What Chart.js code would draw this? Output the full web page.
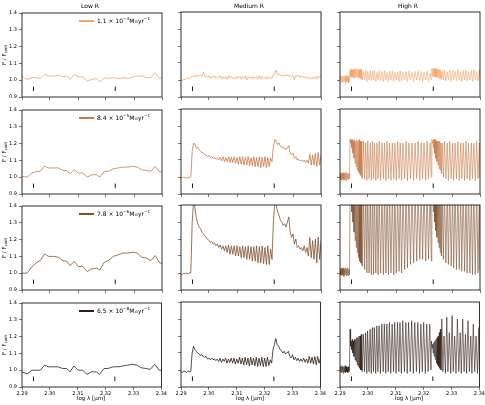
<!DOCTYPE html>
<html>
<head>
<meta charset="utf-8">
<script src="https://cdn.jsdelivr.net/npm/chart.js@4.4.1/dist/chart.umd.min.js"></script>
<style>
  body { margin: 0; background: #fff; }
  #fig { position: relative; width: 485px; height: 405px; overflow: hidden; font-family: "DejaVu Sans", sans-serif; color: #000; }
  #fig canvas { position: absolute; }
  .txt { position: absolute; white-space: nowrap; line-height: 1; }
  .ttl { font-size: 6px; transform: translate(-50%, -50%); }
  .ylab { font-size: 5.5px; transform: translate(-50%, -50%) rotate(-90deg); }
  .xlab { font-size: 5.5px; transform: translate(-50%, -50%); }
  .leg { font-size: 6px; transform: translateY(-50%); display: flex; align-items: center; }
  .leg i { display: inline-block; width: 15px; height: 2px; margin-right: 3px; }
  sup, sub { font-size: 70%; line-height: 0; position: relative; vertical-align: baseline; }
  sup { top: -0.5em; }
  sub { top: 0.3em; }
</style>
</head>
<body>
<div id="fig"></div>
<script>
const columnTitles = ['Low R', 'Medium R', 'High R']
const rateMantissa = ['1.1', '8.4', '7.8', '6.5']
const rateExponent = ['\u22123', '\u22125', '\u22126', '\u22128']
const rowColors = ['#f5a366', '#c77b48', '#7f5332', '#2c1e14']

// band head markers (wavelength) and the flux range of the little ticks
const bandHeads = [2.2941, 2.3233]
const markRange = [0.935, 0.962]

// low resolution
const waveLow = [2.2900, 2.2918, 2.2936, 2.2953, 2.2965, 2.2981, 2.2995, 2.3013, 2.3030, 2.3046, 2.3060,
    2.3072, 2.3086, 2.3101, 2.3117, 2.3133, 2.3149, 2.3167, 2.3178, 2.3194, 2.3208, 2.3226, 2.3244,
    2.3261, 2.3279, 2.3297, 2.3312, 2.3327, 2.3344, 2.3360, 2.3376, 2.3392, 2.3400]
const fluxLow1 = [1.02, 1.005, 1.015, 1.015, 1.01, 1.035, 1.025, 1.025, 1.03, 1.02, 1.025, 1.005, 1.035,
    1.02, 1.02, 0.995, 1.005, 1.01, 0.99, 1.015, 1.01, 1.015, 1.01, 1.015, 1.01, 1.02, 1.025, 1.025,
    1.015, 1.015, 1.045, 1.01, 1.015]
const fluxLow2 = [1.005, 1.0, 1.025, 1.035, 1.035, 1.065, 1.055, 1.055, 1.055, 1.04, 1.04, 1.02, 1.045,
    1.025, 1.025, 1.0, 1.015, 1.015, 1.0, 1.035, 1.035, 1.05, 1.055, 1.06, 1.06, 1.065, 1.06, 1.045,
    1.04, 1.035, 1.065, 1.03, 1.035]
const fluxLow3 = [1.0, 1.0, 1.04, 1.065, 1.075, 1.115, 1.1, 1.1, 1.095, 1.075, 1.07, 1.045, 1.07, 1.04,
    1.04, 1.01, 1.025, 1.03, 1.02, 1.065, 1.075, 1.1, 1.11, 1.12, 1.12, 1.125, 1.12, 1.095, 1.09,
    1.075, 1.105, 1.06, 1.06]
const fluxLow4 = [0.99, 0.978, 1.0, 1.0, 1.0, 1.03, 1.02, 1.02, 1.02, 1.01, 1.01, 0.99, 1.025, 1.0, 1.0,
    0.975, 0.99, 0.99, 0.975, 1.01, 1.01, 1.02, 1.02, 1.025, 1.03, 1.035, 1.03, 1.015, 1.01, 1.005,
    1.035, 1.0, 1.0]

// medium resolution
const waveMed = [2.2900, 2.2905, 2.2910, 2.2915, 2.2920, 2.2925, 2.2930, 2.2935, 2.2940, 2.2945,
    2.2950, 2.2955, 2.2960, 2.2965, 2.2970, 2.2975, 2.2980, 2.2985, 2.2990, 2.2995,
    2.3000, 2.3005, 2.3010, 2.3015, 2.3020, 2.3025, 2.3030, 2.3035, 2.3040, 2.3045,
    2.3050, 2.3055, 2.3060, 2.3065, 2.3070, 2.3075, 2.3080, 2.3085, 2.3090, 2.3095,
    2.3100, 2.3105, 2.3110, 2.3115, 2.3120, 2.3125, 2.3130, 2.3135, 2.3140, 2.3145,
    2.3150, 2.3155, 2.3160, 2.3165, 2.3170, 2.3175, 2.3180, 2.3185, 2.3190, 2.3195,
    2.3200, 2.3205, 2.3210, 2.3215, 2.3220, 2.3225, 2.3230, 2.3235, 2.3240, 2.3245,
    2.3250, 2.3255, 2.3260, 2.3265, 2.3270, 2.3275, 2.3280, 2.3285, 2.3290, 2.3295,
    2.3300, 2.3305, 2.3310, 2.3315, 2.3320, 2.3325, 2.3330, 2.3335, 2.3340, 2.3345,
    2.3350, 2.3355, 2.3360, 2.3365, 2.3370, 2.3375, 2.3380, 2.3385, 2.3390, 2.3395, 2.3400]
const fluxMed1 = [1.0, 0.995, 1.005, 1.0, 1.01, 1.015, 1.005, 1.015,
    1.02, 1.025, 1.015, 1.03, 1.02, 1.025, 1.03, 1.02, 1.045, 1.02, 1.025, 1.015, 1.025, 1.01, 1.02,
    1.015, 1.025, 1.01, 1.02, 1.015, 1.025,
    1.005, 1.02, 1.01, 1.02, 1.005, 1.025, 1.01, 1.02, 1.01, 1.015, 1.005, 1.02, 1.01, 1.02, 1.005,
    1.02, 1.01, 1.025, 1.0, 1.02, 1.01, 1.02, 1.005, 1.02, 1.01, 1.02, 1.005, 1.025, 1.005, 1.02,
    1.01, 1.015, 1.005, 1.02, 1.01, 1.015,
    1.01, 1.03, 1.035, 1.06, 1.03, 1.035, 1.025, 1.03, 1.02, 1.03, 1.025, 1.03, 1.02, 1.03, 1.02,
    1.025, 1.0, 1.025, 1.02, 1.03, 1.015, 1.025, 1.015, 1.02, 1.01, 1.02, 1.01, 1.015, 1.005, 1.015,
    1.01, 1.02, 1.005, 1.02, 1.015, 1.03]
const fluxMed2 = [1.0, 0.995, 1.0, 0.995, 0.995, 1.0, 0.995, 1.0,
    1.15, 1.2, 1.19, 1.17, 1.175, 1.16, 1.15, 1.145, 1.14, 1.13, 1.13, 1.12, 1.125, 1.115, 1.12, 1.11,
    1.115, 1.105, 1.11, 1.1, 1.115,
    1.095, 1.12, 1.09, 1.115, 1.09, 1.12, 1.085, 1.115, 1.085, 1.12, 1.08, 1.115, 1.075, 1.12, 1.075,
    1.12, 1.07, 1.115, 1.07, 1.12, 1.065, 1.115, 1.065, 1.12, 1.06, 1.115, 1.06, 1.12, 1.055, 1.115,
    1.06, 1.12, 1.055, 1.115, 1.06, 1.11,
    1.09, 1.18, 1.22, 1.21, 1.19, 1.2, 1.18, 1.175, 1.17, 1.175, 1.16, 1.17, 1.185, 1.14, 1.13, 1.14,
    1.11, 1.12, 1.1, 1.105, 1.095, 1.1, 1.09, 1.1, 1.085, 1.1, 1.08, 1.135, 1.07, 1.13, 1.07, 1.14,
    1.06, 1.145, 1.07, 1.13]
const fluxMed3 = [0.995, 0.99, 1.0, 0.995, 1.0, 0.995, 1.0, 1.0,
    1.3, 1.42, 1.38, 1.32, 1.29, 1.27, 1.26, 1.24, 1.23, 1.22, 1.21, 1.2, 1.19, 1.18, 1.185, 1.17,
    1.175, 1.16, 1.17, 1.15, 1.165,
    1.14, 1.16, 1.13, 1.16, 1.12, 1.165, 1.11, 1.16, 1.11, 1.16, 1.10, 1.16, 1.10, 1.155, 1.09, 1.16,
    1.09, 1.155, 1.08, 1.16, 1.08, 1.155, 1.07, 1.155, 1.07, 1.16, 1.06, 1.155, 1.06, 1.16, 1.055,
    1.15, 1.05, 1.16, 1.05, 1.14,
    1.08, 1.3, 1.42, 1.4, 1.36, 1.34, 1.31, 1.3, 1.28, 1.29, 1.27, 1.3, 1.33, 1.24, 1.21, 1.23, 1.17,
    1.2, 1.15, 1.16, 1.14, 1.15, 1.13, 1.16, 1.12, 1.15, 1.1, 1.21, 1.09, 1.19, 1.08, 1.2, 1.06, 1.21,
    1.08, 1.19]
const fluxMed4 = [0.99, 0.985, 0.995, 0.99, 0.985, 0.995, 0.99, 0.99,
    1.1, 1.14, 1.12, 1.11, 1.1, 1.095, 1.085, 1.09, 1.08, 1.075, 1.08, 1.065, 1.07, 1.06, 1.07, 1.06,
    1.065, 1.055, 1.065, 1.05, 1.07,
    1.045, 1.065, 1.05, 1.07, 1.04, 1.065, 1.045, 1.07, 1.04, 1.07, 1.035, 1.065, 1.04, 1.075, 1.035,
    1.07, 1.03, 1.075, 1.03, 1.07, 1.025, 1.075, 1.03, 1.07, 1.025, 1.075, 1.02, 1.07, 1.025, 1.075,
    1.02, 1.07, 1.02, 1.075, 1.025, 1.06,
    1.04, 1.12, 1.15, 1.185, 1.15, 1.14, 1.12, 1.115, 1.1, 1.11, 1.095, 1.1, 1.11, 1.08, 1.07, 1.09,
    1.06, 1.075, 1.055, 1.07, 1.05, 1.065, 1.05, 1.07, 1.045, 1.065, 1.04, 1.08, 1.04, 1.075, 1.035,
    1.08, 1.03, 1.08, 1.04, 1.07]

// high resolution: continuum, first band head, line forest, second band head, line forest
const waveHigh = [2.2900, 2.2902, 2.2904, 2.2906, 2.2908, 2.2910, 2.2912, 2.2914, 2.2916, 2.2918,
    2.2920, 2.2922, 2.2924, 2.2926, 2.2928, 2.2930, 2.2932, 2.2934,
    2.2936, 2.2938, 2.2940, 2.2942, 2.2944, 2.2946, 2.2948, 2.2950, 2.2952, 2.2954, 2.2956, 2.2958,
    2.2960, 2.2962, 2.2964, 2.2966, 2.2968, 2.2970, 2.2972, 2.2974, 2.2976, 2.2978, 2.2980,
    2.2984, 2.2988, 2.2992, 2.2996, 2.2999, 2.3004, 2.3008, 2.3012, 2.3016, 2.3020, 2.3023, 2.3028,
    2.3032, 2.3036, 2.3040, 2.3045, 2.3050, 2.3055, 2.3059, 2.3064, 2.3068, 2.3073, 2.3077, 2.3082,
    2.3087, 2.3092, 2.3096, 2.3101, 2.3106, 2.3111, 2.3115, 2.3120, 2.3125, 2.3131, 2.3136, 2.3141,
    2.3146, 2.3152, 2.3157, 2.3163, 2.3168, 2.3174, 2.3179, 2.3185, 2.3190, 2.3195, 2.3200, 2.3206,
    2.3211, 2.3216, 2.3222, 2.3226,
    2.3228, 2.3230, 2.3232, 2.3234, 2.3236, 2.3238, 2.3240, 2.3242, 2.3244, 2.3246, 2.3248, 2.3250,
    2.3252, 2.3254, 2.3256, 2.3258, 2.3260, 2.3262,
    2.3265, 2.3269, 2.3273, 2.3278, 2.3283, 2.3287, 2.3292, 2.3297, 2.3302, 2.3306, 2.3311, 2.3316,
    2.3321, 2.3326, 2.3331, 2.3335, 2.3340, 2.3345, 2.3350, 2.3354, 2.3359, 2.3364, 2.3369, 2.3373,
    2.3378, 2.3383, 2.3388, 2.3393, 2.3398, 2.3400]
const fluxHigh1 = [1.0, 1.025, 0.99, 1.02, 0.985, 1.025, 0.99, 1.02, 0.995, 1.025, 0.985, 1.02, 0.99,
    1.025, 0.99, 1.02, 0.985, 1.02,
    1.06, 1.02, 1.065, 1.015, 1.06, 1.02, 1.065, 1.01, 1.06, 1.02, 1.07, 1.015, 1.06, 1.02, 1.065,
    1.01, 1.06, 1.015, 1.065, 1.01, 1.06, 1.005, 1.0,
    1.05, 1.0, 1.06, 0.99, 1.05, 1.0, 1.055, 0.995, 1.05, 1.0, 1.06, 0.99, 1.045, 1.0, 1.055, 0.995,
    1.05, 0.99, 1.055, 1.0, 1.045, 0.99, 1.05, 1.0, 1.055, 0.99, 1.045, 1.0, 1.05, 0.99, 1.055, 0.995,
    1.045, 1.0, 1.05, 0.99, 1.055, 1.0, 1.045, 0.99, 1.05, 1.0, 1.055, 0.995, 1.05, 0.99, 1.045, 1.0,
    1.05, 0.99, 1.04, 1.0,
    1.065, 1.02, 1.07, 1.025, 1.065, 1.02, 1.07, 1.015, 1.065, 1.02, 1.06, 1.015, 1.065, 1.01, 1.06,
    1.01, 1.06, 1.0,
    1.055, 1.0, 1.06, 0.995, 1.05, 1.0, 1.06, 0.99, 1.055, 1.0, 1.05, 0.995, 1.06, 1.0, 1.05, 0.99,
    1.055, 1.0, 1.06, 0.995, 1.05, 1.0, 1.055, 0.99, 1.06, 1.0, 1.05, 0.995, 1.06, 1.01]
const fluxHigh2 = [1.02, 0.985, 1.025, 0.98, 1.02, 0.99, 1.025, 0.98, 1.02, 0.985, 1.03, 0.98, 1.02,
    0.99, 1.025, 0.985, 1.02, 0.99,
    1.22, 1.2, 1.22, 1.17, 1.22, 1.14, 1.21, 1.11, 1.22, 1.08, 1.21, 1.06, 1.22, 1.04, 1.21, 1.03,
    1.22, 1.02, 1.21, 1.01, 1.21, 1.0, 0.99,
    1.21, 0.99, 1.2, 0.98, 1.21, 0.99, 1.2, 0.98, 1.21, 0.99, 1.2, 0.98, 1.2, 0.99, 1.21, 0.98, 1.2,
    0.99, 1.2, 0.98, 1.21, 0.99, 1.2, 0.98, 1.2, 0.99, 1.2, 0.98, 1.21, 0.99, 1.2, 0.98, 1.2, 0.99,
    1.21, 0.98, 1.2, 0.99, 1.2, 0.98, 1.2, 0.99, 1.21, 0.98, 1.2, 0.99, 1.2, 0.98, 1.21, 0.99, 1.2, 1.0,
    1.22, 1.2, 1.22, 1.17, 1.22, 1.14, 1.22, 1.11, 1.21, 1.09, 1.21, 1.07, 1.21, 1.05, 1.21, 1.04,
    1.2, 1.02,
    1.2, 1.0, 1.21, 0.99, 1.2, 0.98, 1.21, 0.99, 1.2, 0.98, 1.2, 0.99, 1.21, 0.98, 1.2, 0.99, 1.2,
    0.98, 1.21, 0.99, 1.2, 0.98, 1.2, 0.99, 1.2, 0.98, 1.21, 0.99, 1.2, 1.0]
const fluxHigh3 = [1.02, 0.99, 1.03, 0.985, 1.025, 0.99, 1.03, 0.98, 1.02, 0.99, 1.03, 0.985, 1.025,
    0.99, 1.03, 0.985, 1.02, 0.99,
    1.5, 1.42, 1.5, 1.36, 1.5, 1.3, 1.5, 1.24, 1.5, 1.19, 1.5, 1.15, 1.5, 1.12, 1.5, 1.09, 1.5, 1.07,
    1.5, 1.06, 1.5, 1.05, 1.04,
    1.5, 1.02, 1.5, 1.0, 1.5, 1.0, 1.5, 0.99, 1.5, 0.99, 1.5, 1.0, 1.5, 0.99, 1.5, 1.0, 1.5, 0.99,
    1.5, 1.0, 1.5, 0.99, 1.5, 1.0, 1.5, 0.99, 1.5, 1.0, 1.5, 1.01, 1.5, 1.0, 1.5, 1.02, 1.5, 1.03,
    1.5, 1.05, 1.5, 1.06, 1.5, 1.07, 1.5, 1.08, 1.5, 1.08, 1.5, 1.07, 1.5, 1.08, 1.5, 1.07,
    1.5, 1.42, 1.5, 1.36, 1.5, 1.3, 1.5, 1.25, 1.5, 1.21, 1.5, 1.18, 1.5, 1.15, 1.5, 1.12, 1.5, 1.1,
    1.5, 1.08, 1.5, 1.06, 1.5, 1.05, 1.5, 1.04, 1.5, 1.03, 1.5, 1.02, 1.5, 1.02, 1.5, 1.01, 1.5, 1.01,
    1.5, 1.0, 1.5, 1.0, 1.5, 0.99, 1.5, 0.99, 1.5, 1.0, 1.5, 1.02]
const fluxHigh4 = [0.99, 1.02, 0.985, 1.025, 0.99, 1.02, 0.98, 1.02, 0.99, 1.025, 0.985, 1.02, 0.99,
    1.015, 0.985, 1.02, 0.99, 1.015,
    1.24, 1.14, 1.17, 1.12, 1.18, 1.1, 1.17, 1.08, 1.18, 1.06, 1.18, 1.05, 1.19, 1.03, 1.19, 1.02,
    1.2, 1.01, 1.2, 1.0, 1.21, 1.0, 0.99,
    1.21, 0.99, 1.22, 0.98, 1.23, 0.99, 1.24, 0.98, 1.25, 0.99, 1.25, 0.98, 1.26, 0.99, 1.26, 0.98,
    1.27, 0.99, 1.27, 0.98, 1.27, 0.99, 1.28, 0.98, 1.27, 0.99, 1.28, 0.98, 1.28, 0.99, 1.28, 0.98,
    1.29, 0.99, 1.28, 0.98, 1.28, 0.99, 1.29, 0.98, 1.28, 0.99, 1.28, 0.98, 1.27, 0.99, 1.28, 0.98,
    1.27, 0.99, 1.27, 1.0,
    1.17, 1.13, 1.15, 1.1, 1.16, 1.08, 1.17, 1.06, 1.18, 1.04, 1.19, 1.03, 1.2, 1.02, 1.22, 1.01,
    1.24, 1.0,
    1.3, 0.99, 1.2, 0.98, 1.31, 0.99, 1.22, 0.98, 1.32, 0.99, 1.2, 0.98, 1.3, 0.99, 1.22, 0.98, 1.3,
    0.99, 1.21, 0.98, 1.29, 0.99, 1.2, 0.98, 1.27, 0.99, 1.2, 0.98, 1.25, 1.0]

const waves = [waveLow, waveMed, waveHigh]
const fluxes = [
    [fluxLow1, fluxMed1, fluxHigh1],
    [fluxLow2, fluxMed2, fluxHigh2],
    [fluxLow3, fluxMed3, fluxHigh3],
    [fluxLow4, fluxMed4, fluxHigh4],
]

const fig = document.getElementById('fig')
const colLeft = [22, 181, 340]
const rowTop = [12, 109, 205, 302]
const plotW = 140, plotH = 85, axisW = 24, padTop = 4, padRight = 6

const frame = {
    id: 'frame',
    afterDatasetsDraw(chart) {
        const { ctx, chartArea: a } = chart
        ctx.save()
        ctx.strokeStyle = '#1a1a1a'
        ctx.lineWidth = 0.9
        ctx.strokeRect(a.left, a.top, a.right - a.left, a.bottom - a.top)
        ctx.restore()
    }
}

const markData = []
bandHeads.forEach(b => {
    markData.push({ x: b, y: markRange[0] }, { x: b, y: markRange[1] }, { x: b, y: null })
})

function addText(cls, html, left, top) {
    const d = document.createElement('div')
    d.className = 'txt ' + cls
    d.style.left = left + 'px'
    d.style.top = top + 'px'
    d.innerHTML = html
    fig.appendChild(d)
    return d
}

const tickFont = { size: 5, family: 'DejaVu Sans' }

rowTop.forEach((top, r) => {
    const last = r === rowTop.length - 1
    colLeft.forEach((left, c) => {
        const xh = last ? 16 : 5
        const canvas = document.createElement('canvas')
        canvas.width = axisW + plotW + padRight
        canvas.height = padTop + plotH + xh
        canvas.style.left = (left - axisW) + 'px'
        canvas.style.top = (top - padTop) + 'px'
        fig.appendChild(canvas)

        const wave = waves[c]
        const flux = fluxes[r][c]

        new Chart(canvas, {
            type: 'line',
            data: {
                datasets: [{
                    data: wave.map((x, i) => ({ x: x, y: flux[i] })),
                    borderColor: rowColors[r],
                    borderWidth: c === 2 ? 0.6 : 0.8,
                    pointRadius: 0,
                    tension: 0,
                }, {
                    data: markData,
                    borderColor: '#000',
                    borderWidth: 0.9,
                    pointRadius: 0,
                    spanGaps: false,
                }]
            },
            options: {
                responsive: false,
                animation: false,
                devicePixelRatio: 1,
                events: [],
                layout: { padding: { top: padTop, right: padRight, left: 0, bottom: 0 } },
                plugins: { legend: { display: false }, tooltip: { enabled: false } },
                scales: {
                    x: {
                        type: 'linear', min: 2.29, max: 2.34,
                        afterFit: s => { s.height = xh },
                        border: { display: false },
                        grid: { drawOnChartArea: false, tickLength: 3, color: '#222', lineWidth: 0.6 },
                        ticks: {
                            display: last, stepSize: 0.01, autoSkip: false, maxRotation: 0,
                            padding: 1, color: '#000', font: tickFont,
                            callback: v => v.toFixed(2)
                        }
                    },
                    y: {
                        min: 0.9, max: 1.4,
                        afterFit: s => { s.width = axisW },
                        border: { display: false },
                        grid: { drawOnChartArea: false, tickLength: 3, color: '#222', lineWidth: 0.6 },
                        ticks: {
                            display: c === 0, stepSize: 0.1, padding: 2, color: '#000', font: tickFont,
                            callback: v => v.toFixed(1)
                        }
                    }
                }
            },
            plugins: [frame]
        })

        if (r === 0) addText('ttl', columnTitles[c], left + plotW / 2 - 2, 6)
        if (last) addText('xlab', 'log \u03bb [\u03bcm]', left + plotW / 2 - 1, 399)
    })

    addText('ylab', 'F / F<sub>cont</sub>', 5, top + plotH / 2)
    addText('leg', '<i style="background:' + rowColors[r] + '"></i>' + rateMantissa[r] +
        ' \u00d7 10<sup>' + rateExponent[r] + '</sup> M<sub>\u2299</sub> yr<sup>\u22121</sup>',
        79, top + 9)
})
</script>
</body>
</html>
